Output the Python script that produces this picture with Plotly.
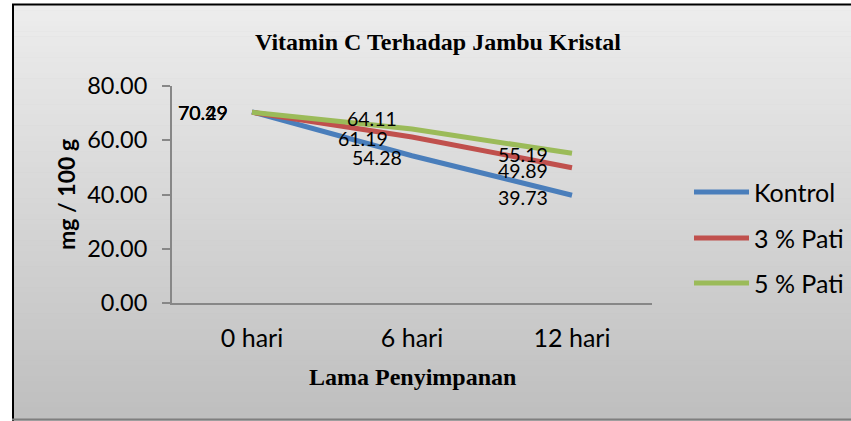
import plotly.graph_objects as go

# ---- data ----
categories = ["0 hari", "6 hari", "12 hari"]
series_names = ["Kontrol", "3 % Pati", "5 % Pati"]
kontrol = [70.49, 54.28, 39.73]
pati3 = [70.29, 61.19, 49.89]
pati5 = [70.29, 64.11, 55.19]
y_ticks = [0, 20, 40, 60, 80]
y_tick_labels = ["0.00", "20.00", "40.00", "60.00", "80.00"]

title_text = "Vitamin C Terhadap Jambu Kristal"
x_title = "Lama Penyimpanan"
y_title = "mg / 100 g"

# ---- styles ----
colors = ["#4A7EBB", "#C0504D", "#9BBB59"]
W, H = 851, 421
ML, MR, MT, MB = 172, 199, 86, 118
PW, PH = W - ML - MR, H - MT - MB

def xp(px):
    return (px - ML) / PW

def yp(py):
    return (H - MB - py) / PH

# label offsets (xshift, yshift) per series, per point
label_offsets = [
    [(-22, -1), (-8, -2), (-22, -2)],
    [(-22, 0), (-22, -1), (-22, -3)],
    [(-22, 0), (-13, 11), (-22, -1)],
]

all_series = [kontrol, pati3, pati5]

fig = go.Figure()
for name, vals, col in zip(series_names, all_series, colors):
    fig.add_trace(go.Scatter(
        x=categories, y=vals, mode="lines", name=name,
        line=dict(color=col, width=5), showlegend=False,
        hoverinfo="skip",
    ))

annotations = []
for vals, offs in zip(all_series, label_offsets):
    for cat, v, (dx, dy) in zip(categories, vals, offs):
        annotations.append(dict(
            x=cat, y=v, xref="x", yref="y", text=f"{v:.2f}",
            showarrow=False, xanchor="right", yanchor="middle",
            xshift=dx, yshift=dy,
            font=dict(family="Lato", size=19.5, color="#000000"),
        ))

# titles
annotations.append(dict(x=xp(438), y=yp(42), xref="paper", yref="paper",
                        text=f"<b>{title_text}</b>", showarrow=False,
                        xanchor="center", yanchor="middle",
                        font=dict(family="Liberation Serif", size=24, color="#000000")))
annotations.append(dict(x=xp(412), y=yp(377), xref="paper", yref="paper",
                        text=f"<b>{x_title}</b>", showarrow=False,
                        xanchor="center", yanchor="middle",
                        font=dict(family="Liberation Serif", size=24, color="#000000")))
annotations.append(dict(x=xp(66), y=yp(195), xref="paper", yref="paper",
                        text=f"<b>{y_title}</b>", showarrow=False, textangle=-90,
                        xanchor="center", yanchor="middle",
                        font=dict(family="Lato", size=23, color="#000000")))

shapes = []
# gradient background
top_py, bot_py = 5, 423
n = 80
c_top, c_bot = 237, 190
for i in range(n):
    y0 = top_py + (bot_py - top_py) * i / n
    y1 = top_py + (bot_py - top_py) * (i + 1) / n + 0.5
    c = round(c_top + (c_bot - c_top) * (i + 0.5) / n)
    shapes.append(dict(type="rect", xref="paper", yref="paper",
                       x0=xp(12), x1=xp(W + 2), y0=yp(y1), y1=yp(y0),
                       fillcolor=f"rgb({c},{c},{c})", line=dict(width=0),
                       layer="below"))
# white surround (left and top)
shapes.append(dict(type="rect", xref="paper", yref="paper",
                   x0=xp(-2), x1=xp(12), y0=yp(H + 2), y1=yp(-2),
                   fillcolor="#FFFFFF", line=dict(width=0), layer="below"))
shapes.append(dict(type="rect", xref="paper", yref="paper",
                   x0=xp(-2), x1=xp(W + 2), y0=yp(4), y1=yp(-2),
                   fillcolor="#FFFFFF", line=dict(width=0), layer="below"))
# borders
shapes.append(dict(type="line", xref="paper", yref="paper",
                   x0=xp(12), x1=xp(W + 2), y0=yp(4.5), y1=yp(4.5),
                   line=dict(color="#000000", width=2), layer="below"))
shapes.append(dict(type="line", xref="paper", yref="paper",
                   x0=xp(13), x1=xp(13), y0=yp(4), y1=yp(H + 2),
                   line=dict(color="#000000", width=2), layer="below"))
shapes.append(dict(type="line", xref="paper", yref="paper",
                   x0=xp(12), x1=xp(W + 2), y0=yp(419.5), y1=yp(419.5),
                   line=dict(color="#7F7F7F", width=2), layer="below"))

# legend (manual)
legend_rows = [192, 238, 283]
for name, col, ry in zip(series_names, colors, legend_rows):
    shapes.append(dict(type="line", xref="paper", yref="paper",
                       x0=xp(694), x1=xp(749), y0=yp(ry), y1=yp(ry),
                       line=dict(color=col, width=5)))
    annotations.append(dict(x=xp(752), y=yp(ry), xref="paper", yref="paper",
                            text=name, showarrow=False, xanchor="left",
                            yanchor="middle",
                            font=dict(family="Lato", size=25, color="#000000")))

fig.update_layout(
    width=W, height=H,
    margin=dict(l=ML, r=MR, t=MT, b=MB, pad=0),
    paper_bgcolor="#BEBEBE",
    plot_bgcolor="rgba(0,0,0,0)",
    showlegend=False,
    shapes=shapes,
    annotations=annotations,
    xaxis=dict(
        type="category", range=[-0.5, 2.5],
        showline=True, linecolor="#878787", linewidth=2,
        showgrid=False, zeroline=False, ticks="",
        tickfont=dict(family="Lato", size=25, color="#000000"),
        ticklabelstandoff=12,
    ),
    yaxis=dict(
        range=[0, 80], tickvals=y_ticks, ticktext=y_tick_labels,
        showline=True, linecolor="#878787", linewidth=2,
        showgrid=False, zeroline=False,
        ticks="outside", ticklen=8, tickwidth=2, tickcolor="#878787",
        tickfont=dict(family="Lato", size=23.5, color="#000000"),
        ticklabelstandoff=10,
    ),
)

fig.write_html("out.html", config={"displayModeBar": False},
               post_script="document.body.style.margin='0px';document.body.style.overflow='hidden';")
